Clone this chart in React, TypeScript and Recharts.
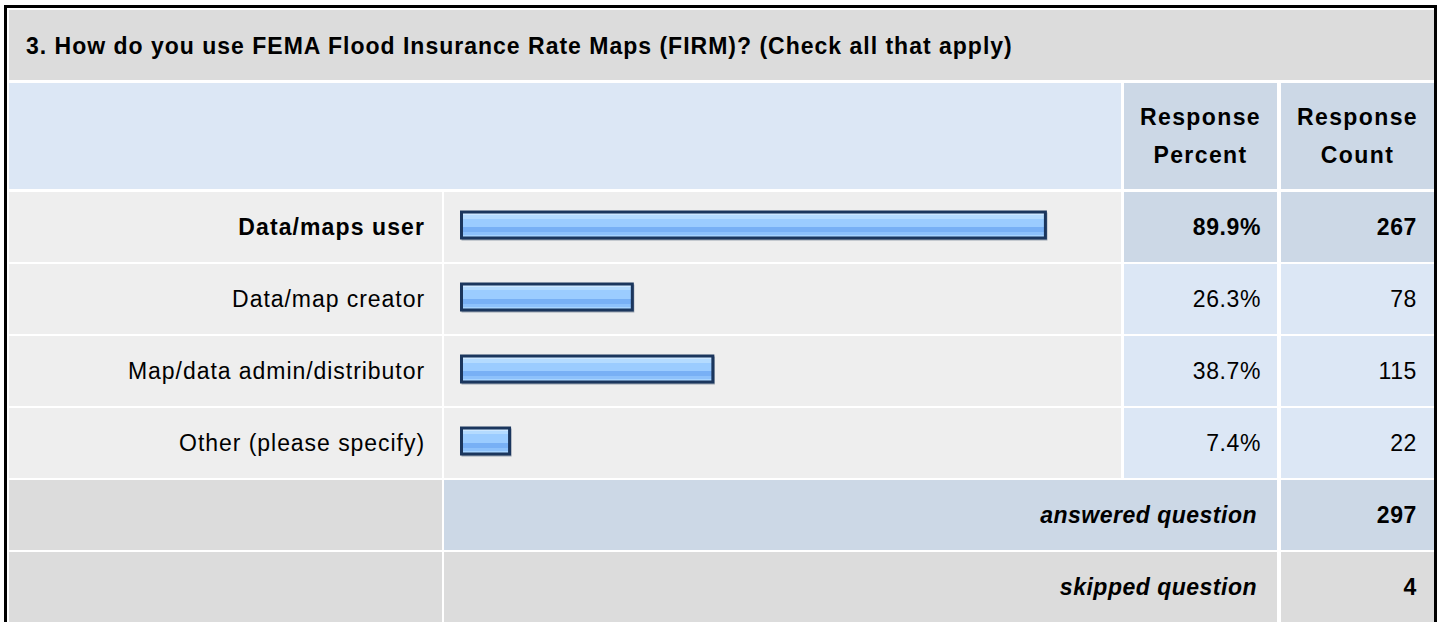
import React from "react";
import { BarChart, Bar, XAxis, YAxis } from "recharts";

const questionTitle = "3. How do you use FEMA Flood Insurance Rate Maps (FIRM)? (Check all that apply)";
const answerOptions = ["Data/maps user", "Data/map creator", "Map/data admin/distributor", "Other (please specify)"];
const responsePercent = [89.9, 26.3, 38.7, 7.4];
const responseCount = [267, 78, 115, 22];
const answeredQuestion = 297;
const skippedQuestion = 4;

const FONT = "'Liberation Sans', Arial, Helvetica, sans-serif";
const GRAY = "#dcdcdc";
const ROW_BG = "#eeeeee";
const LIGHT_BLUE = "#dce7f5";
const BLUE = "#ccd8e6";

// column edges
const X_LABEL = 9, X_LABEL_END = 442;
const X_BAR = 444, X_BAR_END = 1121;
const X_PCT = 1124, X_PCT_END = 1277;
const X_CNT = 1281, X_CNT_END = 1434;

const ROW_TOP = 192, ROW_PITCH = 72, ROW_H = 70;

const chartData = answerOptions.map((name, i) => ({
  name,
  percent: responsePercent[i],
  count: responseCount[i],
}));

const topIdx = responsePercent.indexOf(Math.max(...responsePercent));

function Cell({ x, y, w, h, bg, children, align = "right", pad = 16, style = {} }: any) {
  return (
    <div
      style={{
        position: "absolute", left: x, top: y, width: w, height: h, background: bg,
        display: "flex", alignItems: "center",
        justifyContent: align === "right" ? "flex-end" : align === "center" ? "center" : "flex-start",
        paddingLeft: align === "left" ? pad : 0, paddingRight: align === "right" ? pad : 0,
        boxSizing: "border-box", fontFamily: FONT, fontSize: 23, color: "#000",
        letterSpacing: "0.95px", whiteSpace: "nowrap", ...style,
      }}
    >
      {children}
    </div>
  );
}

function GlossyBar(props: any) {
  const { x, y, width, height } = props;
  if (!width || width <= 0) return null;
  return (
    <g>
      <rect x={x + 1} y={y + 1.5} width={width} height={height} fill="none" stroke="#9aa3b0" strokeWidth={2} />
      <rect x={x} y={y} width={width} height={height} fill="url(#glossBlue)" stroke="#1b365d" strokeWidth={3} />
    </g>
  );
}

export default function App() {
  const rows = [];
  answerOptions.forEach((label, i) => {
    const top = ROW_TOP + i * ROW_PITCH;
    const bold = i === topIdx;
    const cellBg = bold ? BLUE : LIGHT_BLUE;
    rows.push(
      <Cell key={"l" + i} x={X_LABEL} y={top} w={X_LABEL_END - X_LABEL} h={ROW_H} bg={ROW_BG} pad={17} style={{ fontWeight: bold ? 700 : 400, letterSpacing: bold ? "1.1px" : "0.95px" }}>
        {label}
      </Cell>,
      <Cell key={"b" + i} x={X_BAR} y={top} w={X_BAR_END - X_BAR} h={ROW_H} bg={ROW_BG} />,
      <Cell key={"p" + i} x={X_PCT} y={top} w={X_PCT_END - X_PCT} h={ROW_H} bg={cellBg} pad={16} style={{ fontWeight: bold ? 700 : 400, letterSpacing: "0.6px" }}>
        {responsePercent[i].toFixed(1)}%
      </Cell>,
      <Cell key={"c" + i} x={X_CNT} y={top} w={X_CNT_END - X_CNT} h={ROW_H} bg={cellBg} pad={17} style={{ fontWeight: bold ? 700 : 400, letterSpacing: "0.6px" }}>
        {responseCount[i]}
      </Cell>
    );
  });

  const ansTop = ROW_TOP + 4 * ROW_PITCH;
  const skipTop = ansTop + ROW_PITCH;

  return (
    <div style={{ position: "relative", width: 1440, height: 622, background: "#fff", overflow: "hidden" }}>
      <style>{"body{margin:0}"}</style>

      {/* outer frame */}
      <div style={{ position: "absolute", left: 4, top: 5, width: 1433, height: 640, border: "3px solid #000", boxSizing: "border-box" }} />

      {/* title */}
      <Cell x={X_LABEL} y={10} w={X_CNT_END - X_LABEL} h={70} bg={GRAY} align="left" pad={17} style={{ fontWeight: 700, fontSize: 23, letterSpacing: "1px", paddingTop: 3 }}>
        {questionTitle}
      </Cell>

      {/* header */}
      <Cell x={X_LABEL} y={83} w={X_BAR_END - X_LABEL} h={106} bg={LIGHT_BLUE} />
      <Cell x={X_PCT} y={83} w={X_PCT_END - X_PCT} h={106} bg={BLUE} align="center" style={{ fontWeight: 700, whiteSpace: "normal", textAlign: "center", lineHeight: "38px", letterSpacing: "1.4px" }}>
        Response<br />Percent
      </Cell>
      <Cell x={X_CNT} y={83} w={X_CNT_END - X_CNT} h={106} bg={BLUE} align="center" style={{ fontWeight: 700, whiteSpace: "normal", textAlign: "center", lineHeight: "38px", letterSpacing: "1.4px" }}>
        Response<br />Count
      </Cell>

      {rows}

      {/* bars */}
      <div style={{ position: "absolute", left: X_BAR, top: 189 }}>
        <BarChart
          width={X_BAR_END - X_BAR + 1}
          height={ROW_PITCH * 4}
          data={chartData}
          layout="vertical"
          margin={{ top: 0, right: 11, bottom: 0, left: 17.5 }}
          barCategoryGap={0}
        >
          <defs>
            <linearGradient id="glossBlue" x1="0" y1="0" x2="0" y2="1">
              <stop offset="0" stopColor="#cde7ff" />
              <stop offset="0.11" stopColor="#cde7ff" />
              <stop offset="0.11" stopColor="#b4dbff" />
              <stop offset="0.25" stopColor="#b4dbff" />
              <stop offset="0.25" stopColor="#9bccff" />
              <stop offset="0.56" stopColor="#9bccff" />
              <stop offset="0.56" stopColor="#78b0f5" />
              <stop offset="0.76" stopColor="#78b0f5" />
              <stop offset="0.76" stopColor="#8dc1fb" />
              <stop offset="0.9" stopColor="#8dc1fb" />
              <stop offset="0.9" stopColor="#a7d4ff" />
              <stop offset="1" stopColor="#a7d4ff" />
            </linearGradient>
          </defs>
          <XAxis type="number" domain={[0, 100]} hide />
          <YAxis type="category" dataKey="name" hide />
          <Bar dataKey="percent" barSize={26} shape={<GlossyBar />} isAnimationActive={false} />
        </BarChart>
      </div>

      {/* answered / skipped */}
      <Cell x={X_LABEL} y={ansTop} w={X_LABEL_END - X_LABEL} h={ROW_H} bg={GRAY} />
      <Cell x={X_BAR} y={ansTop} w={X_PCT_END - X_BAR} h={ROW_H} bg={BLUE} pad={20} style={{ fontWeight: 700, fontStyle: "italic", letterSpacing: "0.5px" }}>
        answered question
      </Cell>
      <Cell x={X_CNT} y={ansTop} w={X_CNT_END - X_CNT} h={ROW_H} bg={BLUE} pad={17} style={{ fontWeight: 700, letterSpacing: "0.6px" }}>
        {answeredQuestion}
      </Cell>
      <Cell x={X_LABEL} y={skipTop} w={X_LABEL_END - X_LABEL} h={ROW_H} bg={GRAY} />
      <Cell x={X_BAR} y={skipTop} w={X_PCT_END - X_BAR} h={ROW_H} bg={GRAY} pad={20} style={{ fontWeight: 700, fontStyle: "italic", letterSpacing: "0.5px" }}>
        skipped question
      </Cell>
      <Cell x={X_CNT} y={skipTop} w={X_CNT_END - X_CNT} h={ROW_H} bg={GRAY} pad={17} style={{ fontWeight: 700, letterSpacing: "0.6px" }}>
        {skippedQuestion}
      </Cell>
    </div>
  );
}
